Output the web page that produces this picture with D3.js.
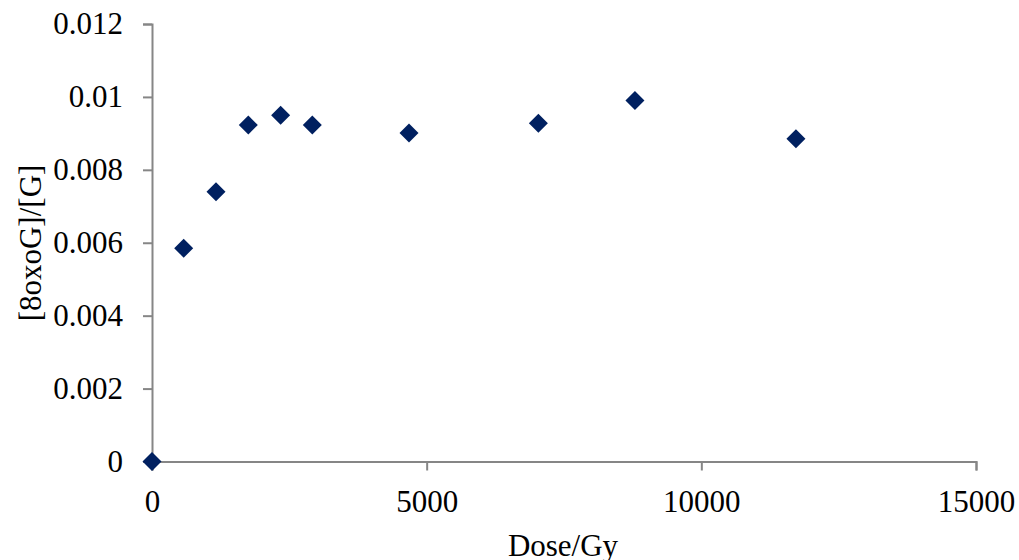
<!DOCTYPE html>
<html>
<head>
<meta charset="utf-8">
<script src="https://cdn.jsdelivr.net/npm/d3@7"></script>
<style>
  body { margin: 0; background: #fff; }
  text { font-family: "Liberation Serif", "Times New Roman", serif; }
</style>
</head>
<body>
<div id="chart"></div>
<script>
// dose (Gy) and 8oxoG/G ratio
const dose  = [0, 577, 1165, 1753, 2342, 2918, 4678, 7034, 8791, 11722]
const ratio = [0, 0.00585, 0.0074, 0.00923, 0.0095, 0.00923, 0.00901, 0.00928, 0.0099, 0.00885]
const xTicks = [0, 5000, 10000, 15000]
const yTicks = [0, 0.002, 0.004, 0.006, 0.008, 0.01, 0.012]

const width = 1019,
      height = 560,
      margin = ({ top: 24, right: 43, bottom: 98.5, left: 152 })

let svg = d3.select("#chart")
    .append("svg")
    .attr("width", width)
    .attr("height", height)

let x = d3.scaleLinear()
    .domain([0, 15000])
    .range([margin.left, width - margin.right])
let y = d3.scaleLinear()
    .domain([0, 0.012])
    .range([height - margin.bottom, margin.top])

// x axis
let xAxis = svg.append("g")
    .attr("transform", `translate(0,${y(0)})`)
    .call(d3.axisBottom(x).tickValues(xTicks).tickSize(9).tickPadding(19).tickFormat(d3.format("d")))
xAxis.select(".domain").attr("stroke", "#868686").attr("stroke-width", 2)
xAxis.selectAll(".tick line").attr("stroke", "#868686").attr("stroke-width", 2)
xAxis.selectAll(".tick text")
    .attr("fill", "#000")
    .style("font-size", "31px")
    .style("font-family", "Liberation Serif")

// y axis
let yAxis = svg.append("g")
    .attr("transform", `translate(${x(0)},0)`)
    .call(d3.axisLeft(y).tickValues(yTicks).tickSize(9).tickPadding(20).tickFormat(d => d === 0 ? "0" : String(+d.toFixed(3))))
yAxis.select(".domain").attr("stroke", "#868686").attr("stroke-width", 2)
yAxis.selectAll(".tick line").attr("stroke", "#868686").attr("stroke-width", 2)
yAxis.selectAll(".tick text")
    .attr("fill", "#000")
    .style("font-size", "31px")
    .style("font-family", "Liberation Serif")

// diamond markers
const data = dose.map((d, i) => ({ dose: d, ratio: ratio[i] }))
svg.selectAll(".pt")
    .data(data)
    .join("path")
    .attr("class", "pt")
    .attr("d", "M0,-9.5L9.5,0L0,9.5L-9.5,0Z")
    .attr("transform", d => `translate(${x(d.dose)},${y(d.ratio)})`)
    .attr("fill", "#002060")

// axis titles
svg.append("text")
    .attr("x", 563)
    .attr("y", 556)
    .attr("text-anchor", "middle")
    .style("font-size", "31px")
    .text("Dose/Gy")

svg.append("text")
    .attr("transform", `translate(41,${243}) rotate(-90)`)
    .attr("text-anchor", "middle")
    .style("font-size", "31px")
    .text("[8oxoG]/[G]")
</script>
</body>
</html>
